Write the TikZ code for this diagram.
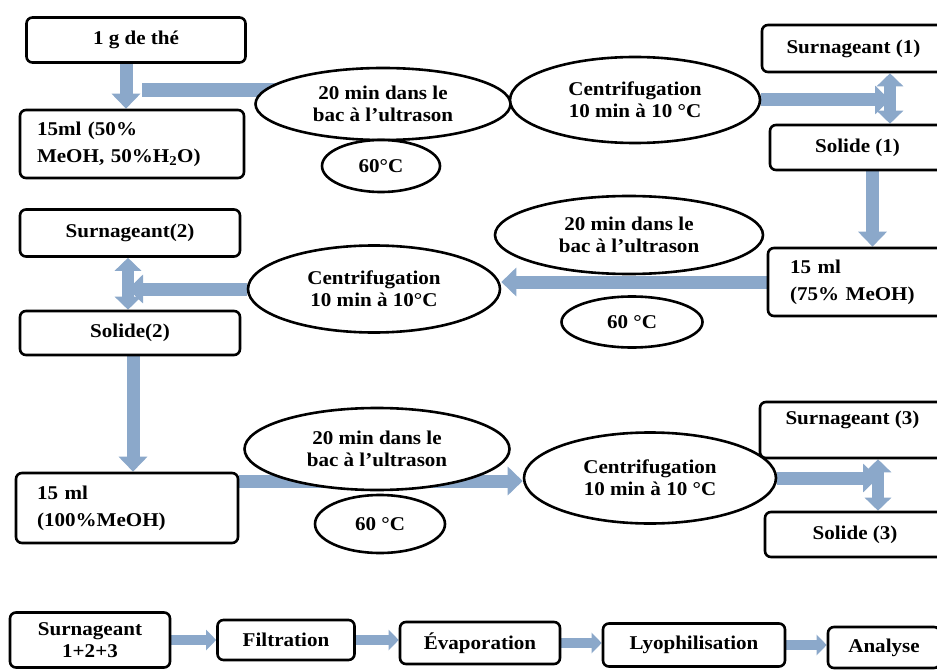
\documentclass[tikz,border=0pt]{standalone}
\usepackage{fontspec}
\setmainfont{Liberation Serif}[FakeStretch=1.08]
\usepackage{tikz}
\usetikzlibrary{shapes.geometric, arrows.meta}
\definecolor{flowblue}{RGB}{139,168,202}
\pgfdeclarelayer{background}
\pgfsetlayers{background,main}
\tikzstyle{box} = [rectangle, 
rounded corners=6pt, 
text centered, 
align=center,
line width=2.6pt, 
draw=black, 
fill=white]
\tikzstyle{mix} = [rectangle, 
rounded corners=6pt, 
align=left, 
line width=2.6pt, 
draw=black, 
fill=white, 
font=\fontsize{19.5}{27}\selectfont\bfseries]
\tikzstyle{bath} = [ellipse, 
inner sep=0pt, 
align=center, 
line width=2.6pt, 
draw=black, 
fill=white]
\tikzstyle{flow} = [line width=13pt, draw=flowblue, -{Triangle[width=28pt, length=15pt]}]
\tikzstyle{split} = [line width=12pt, draw=flowblue, {Triangle[width=26pt, length=13pt]}-{Triangle[width=26pt, length=13pt]}]
\tikzstyle{feed} = [line width=14pt, draw=flowblue]
\tikzstyle{pipe} = [line width=10pt, draw=flowblue, -{Triangle[width=20pt, length=10pt]}]

\begin{document}
\begin{tikzpicture}[x=1pt, y=-1pt]
\tikzstyle{every node}=[font=\fontsize{19.5}{22}\selectfont\bfseries]
\useasboundingbox (0,0) rectangle (937,671);
% first extraction
\node (the) [box, minimum width=219pt, minimum height=45pt] at (136,40) {1 g de thé};
\node (mix1) [mix, inner xsep=17pt, text width=190pt, minimum height=68pt] at (132,144) {15ml (50\%\\MeOH, 50\%H\textsubscript{2}O)};
\node (us1) [bath, minimum width=255pt, minimum height=72pt] at (383,104) {20 min dans le\\bac à l’ultrason};
\node (t1) [bath, below of=us1, node distance=62pt, xshift=-2pt, minimum width=118pt, minimum height=52pt] {60°C};
\node (cf1) [bath, minimum width=250pt, minimum height=86pt] at (635,100) {Centrifugation\\10 min à 10 °C};
\node (sn1) [box, minimum width=183pt, minimum height=47pt] at (853.5,48.5) {Surnageant (1)};
\node (sd1) [box, below of=sn1, node distance=99pt, xshift=4pt, minimum width=175pt, minimum height=45pt] {Solide (1)};
% second extraction
\node (mix2) [mix, inner xsep=22pt, text width=133pt, minimum height=68pt] at (856.5,282) {15 ml\\(75\% MeOH)};
\node (us2) [bath, minimum width=268pt, minimum height=78pt] at (629,235) {20 min dans le\\bac à l’ultrason};
\node (t2) [bath, below of=us2, node distance=87pt, xshift=3pt, minimum width=141pt, minimum height=51pt] {60 °C};
\node (cf2) [bath, minimum width=252pt, minimum height=87pt] at (374,289) {Centrifugation\\10 min à 10°C};
\node (sn2) [box, minimum width=220pt, minimum height=47pt] at (130,233) {Surnageant(2)};
\node (sd2) [box, below of=sn2, node distance=100pt, minimum width=220pt, minimum height=44pt] {Solide(2)};
% third extraction
\node (mix3) [mix, inner xsep=21pt, text width=180pt, minimum height=70pt] at (127,508) {15 ml\\(100\%MeOH)};
\node (us3) [bath, minimum width=265pt, minimum height=82pt] at (377,449) {20 min dans le\\bac à l’ultrason};
\node (t3) [bath, below of=us3, node distance=75pt, xshift=3pt, minimum width=130pt, minimum height=58pt] {60 °C};
\node (cf3) [bath, minimum width=252pt, minimum height=91pt] at (650,478) {Centrifugation\\10 min à 10 °C};
\node (sn3) [box, text depth=24pt, minimum width=185pt, minimum height=56pt] at (852.5,430) {Surnageant (3)};
\node (sd3) [box, below of=sn3, node distance=104.5pt, xshift=2.5pt, minimum width=180pt, minimum height=45pt] {Solide (3)};
% final steps
\node (sall) [box, minimum width=160pt, minimum height=55pt] at (90,640) {Surnageant\\1+2+3};
\node (filt) [box, minimum width=137pt, minimum height=40pt] at (286,640) {Filtration};
\node (evap) [box, minimum width=160pt, minimum height=42pt] at (480,643) {Évaporation};
\node (lyo) [box, minimum width=182pt, minimum height=43pt] at (694,645) {Lyophilisation};
\node (ana) [box, minimum width=112pt, minimum height=41pt] at (884,647.5) {Analyse};

\begin{pgfonlayer}{background}
\coordinate (j1) at (142,90);
\coordinate (dv1) at (890,100);
\coordinate (dv2) at (128,289);
\coordinate (dv3) at (878,478);
\draw [flow] ([xshift=-10pt]the.south) -- ([xshift=-10pt]the.south |- mix1.north);
\draw [feed] (j1) -- (j1 -| us1.center);
\draw [flow] (cf1.east) -- (dv1);
\draw [split] (sn1.south -| dv1) -- (sd1.north -| dv1);
\draw [flow] ([xshift=15pt]sd1.south) -- ([xshift=15pt]sd1.south |- mix2.north);
\draw [flow] (mix2.west) -- (mix2.west -| cf2.east);
\draw [flow] (cf2.west) -- (dv2);
\draw [split] (sn2.south -| dv2) -- (sd2.north -| dv2);
\draw [flow] ([xshift=3pt]sd2.south) -- ([xshift=3pt]sd2.south |- mix3.north);
\draw [flow] ([yshift=27pt]mix3.east) -- ([yshift=27pt]mix3.east -| cf3.west);
\draw [flow] (cf3.east) -- (dv3);
\draw [split] (sn3.south -| dv3) -- (sd3.north -| dv3);
\draw [pipe] (sall.east) -- (sall.east -| filt.west);
\draw [pipe] (filt.east) -- (filt.east -| evap.west);
\draw [pipe] (evap.east) -- (evap.east -| lyo.west);
\draw [pipe] (lyo.east) -- (lyo.east -| ana.west);
\end{pgfonlayer}
\end{tikzpicture}
\end{document}
